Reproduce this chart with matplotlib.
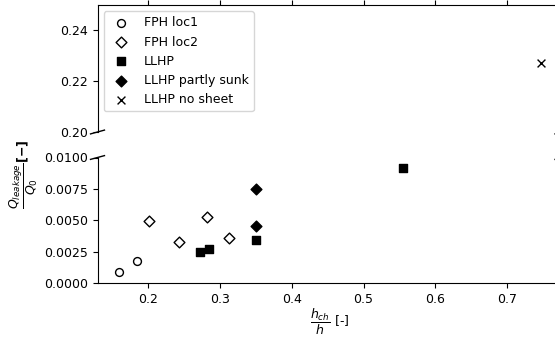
import matplotlib
matplotlib.use("Agg")
import matplotlib.pyplot as plt

plt.rcParams['font.size'] = 9

# data
fph1_x = [0.159, 0.185]
fph1_y = [0.00085, 0.00175]
fph2_x = [0.202, 0.243, 0.282, 0.313]
fph2_y = [0.00494, 0.00324, 0.00526, 0.00356]
llhp_x = [0.272, 0.285, 0.350, 0.555]
llhp_y = [0.00245, 0.00273, 0.00343, 0.00919]
sunk_x = [0.350, 0.350]
sunk_y = [0.00747, 0.00452]
nosheet_x = [0.747]
nosheet_y = [0.2272]

W, H = 555, 340
fig = plt.figure(figsize=(W / 100, H / 100), dpi=100)
left, right = 97.5 / W, 562 / W
ax1 = fig.add_axes([left, 1 - 132 / H, right - left, 127 / H])
ax2 = fig.add_axes([left, 1 - 283 / H, right - left, 125.5 / H], sharex=ax1)

for ax in (ax1, ax2):
    ax.scatter(fph1_x, fph1_y, marker='o', facecolors='white', edgecolors='black', s=32, linewidths=1, label='FPH loc1')
    ax.scatter(fph2_x, fph2_y, marker='D', facecolors='white', edgecolors='black', s=30, linewidths=1, label='FPH loc2')
    ax.scatter(llhp_x, llhp_y, marker='s', color='black', s=34, label='LLHP')
    ax.scatter(sunk_x, sunk_y, marker='D', color='black', s=30, label='LLHP partly sunk')
    ax.scatter(nosheet_x, nosheet_y, marker='x', color='black', s=32, linewidths=1, label='LLHP no sheet')

ax1.set_ylim(0.20, 0.25)
ax1.set_yticks([0.20, 0.22, 0.24])
ax1.set_yticklabels(['0.20', '0.22', '0.24'])
ax2.set_ylim(0, 0.01)
ax2.set_yticks([0, 0.0025, 0.005, 0.0075, 0.01])
ax2.set_yticklabels(['0.0000', '0.0025', '0.0050', '0.0075', '0.0100'])

ax1.spines['bottom'].set_visible(False)
ax2.spines['top'].set_visible(False)
ax1.xaxis.tick_top()
ax1.tick_params(labeltop=False)
ax2.xaxis.tick_bottom()
ax2.set_xticks([0.2, 0.3, 0.4, 0.5, 0.6, 0.7])

# diagonal break marks
d = .015
kw = dict(transform=ax1.transAxes, color='k', clip_on=False, lw=1)
ax1.plot((-d, +d), (-d, +d), **kw)
ax1.plot((1 - d, 1 + d), (-d, +d), **kw)
kw.update(transform=ax2.transAxes)
ax2.plot((-d, +d), (1 - d, 1 + d), **kw)
ax2.plot((1 - d, 1 + d), (1 - d, 1 + d), **kw)

ax1.legend(loc='upper left', fontsize=9)
ax2.set_xlabel(r'$\dfrac{h_{ch}}{h}$ [-]', labelpad=1)
fig.text(24 / W, 1 - 174 / H, r'$\dfrac{Q_{leakage}}{Q_0}$$\mathbf{[-]}$',
         rotation=90, ha='center', va='center', fontsize=9)

fig.savefig('out.png', dpi=100)
